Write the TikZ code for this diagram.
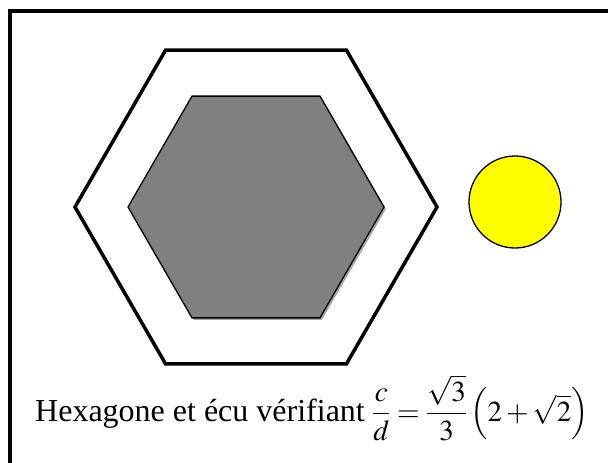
\documentclass[tikz,border=0pt]{standalone}
\usepackage{amsmath}
\usepackage{mathptmx}
\usepackage{fontspec}
\setmainfont{Liberation Serif}
\usetikzlibrary{shapes.geometric}
\definecolor{hexgrey}{HTML}{808080}
\definecolor{shadowgrey}{HTML}{A6A6A6}
\definecolor{ecuyellow}{HTML}{FFFF00}
\tikzset{
  hexouter/.style={draw=black,line width=3.5pt,line join=miter},
  hexinner/.style={draw=black,fill=hexgrey,line width=1.3pt,line join=miter},
  ecu/.style={circle,draw=black,fill=ecuyellow,line width=1.3pt,minimum size=92pt,inner sep=0pt},
  legendetext/.style={anchor=base west,inner sep=0pt,font=\fontsize{29}{34}\selectfont}
}

\begin{document}
\begin{tikzpicture}[x=1pt,y=-1pt]
\useasboundingbox (0,0) rectangle (608,463);
\draw[line width=4pt] (10,11) rectangle (660,520);
\coordinate (centre) at (256,207);
\begin{scope}[shift={(centre)}]
  \draw[hexouter] (0:181) -- (60:181) -- (120:181) -- (180:181) -- (240:181) -- (300:181) -- cycle;
  \fill[shadowgrey,shift={(2,2)}] (0:128) -- (60:128) -- (120:128) -- (180:128) -- (240:128) -- (300:128) -- cycle;
  \draw[hexinner] (0:128) -- (60:128) -- (120:128) -- (180:128) -- (240:128) -- (300:128) -- cycle;
\end{scope}
\node[ecu] (disque) at (515,202) {};
\node[legendetext,font=\fontsize{32}{36}\selectfont] (legende) at (35,421) {Hexagone et écu vérifiant};
\node[legendetext] (formule) at ([xshift=7pt]legende.base east)
  {$\dfrac{c}{d}=\dfrac{\sqrt{3}}{3}\left(2+\sqrt{2}\right)$};
\end{tikzpicture}
\end{document}
